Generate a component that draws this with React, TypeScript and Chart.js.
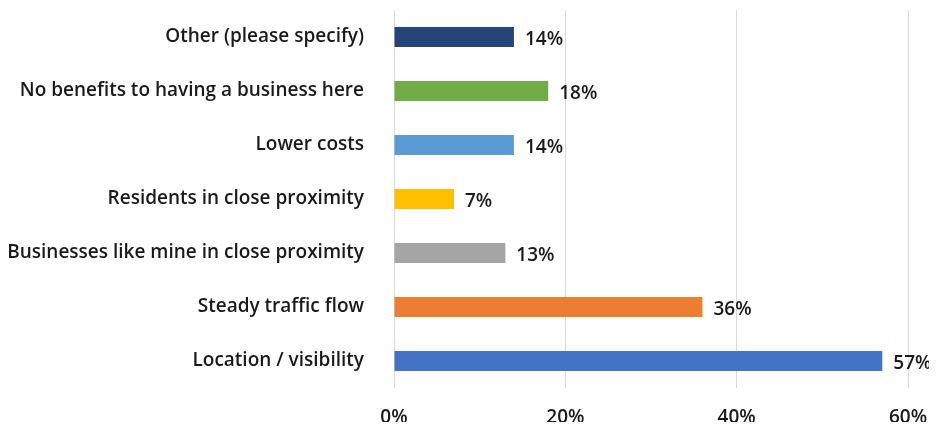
import React, { useEffect, useRef } from "react";
import { Chart, registerables } from "chart.js";

Chart.register(...registerables);

const categories = [
  "Other (please specify)",
  "No benefits to having a business here",
  "Lower costs",
  "Residents in close proximity",
  "Businesses like mine in close proximity",
  "Steady traffic flow",
  "Location / visibility",
];
const values = [14, 18, 14, 7, 13, 36, 57];
const barColors = ["#264478", "#70AD47", "#5B9BD5", "#FFC000", "#A5A5A5", "#ED7D31", "#4472C4"];
const xTicks = [0, 20, 40, 60];

const FONT = "'Open Sans', 'Segoe UI', sans-serif";
const SIZE = 19;

const valueLabels = {
  id: "valueLabels",
  afterDatasetsDraw(chart: any) {
    const ctx = chart.ctx;
    const meta = chart.getDatasetMeta(0);
    ctx.save();
    ctx.font = `600 ${SIZE}px ${FONT}`;
    ctx.fillStyle = "#1a1a1a";
    ctx.textAlign = "left";
    ctx.textBaseline = "middle";
    meta.data.forEach((bar: any, i: number) => {
      ctx.fillText(`${values[i]}%`, bar.x + 11, bar.y + 3);
    });
    ctx.restore();
  },
};

export default function App() {
  const ref = useRef<HTMLCanvasElement>(null);
  useEffect(() => {
    if (!ref.current) return;
    const chart = new Chart(ref.current, {
      type: "bar",
      data: {
        labels: categories,
        datasets: [
          {
            data: values,
            backgroundColor: barColors,
            barPercentage: 0.37,
            categoryPercentage: 1,
          },
        ],
      },
      options: {
        indexAxis: "y",
        animation: false,
        responsive: false,
        layout: { padding: { top: 10, right: 29, bottom: 0, left: 0 } },
        plugins: { legend: { display: false }, tooltip: { enabled: false } },
        scales: {
          x: {
            min: 0,
            max: 60,
            afterBuildTicks(axis: any) {
              axis.ticks = xTicks.map((v) => ({ value: v }));
            },
            afterFit(axis: any) {
              axis.paddingLeft = 0;
              axis.paddingRight = 0;
              axis.paddingTop = 0;
              axis.paddingBottom = 0;
              axis.height = 42;
            },
            grid: { color: "#d9d9d9", lineWidth: 1, drawTicks: false },
            border: { display: false },
            ticks: {
              padding: 18,
              color: "#1a1a1a",
              font: { family: FONT, size: SIZE, weight: "600" },
              callback: (v: any) => `${v}%`,
            },
          },
          y: {
            grid: { display: false },
            border: { display: false },
            afterFit(axis: any) {
              axis.width = 394;
              axis.paddingTop = 0;
              axis.paddingBottom = 0;
            },
            ticks: {
              padding: 22,
              color: "#1a1a1a",
              font: { family: FONT, size: SIZE, weight: "600" },
            },
          },
        },
      },
      plugins: [valueLabels],
    });
    return () => chart.destroy();
  }, []);
  return (
    <div style={{ margin: -8 }}>
      <canvas ref={ref} width={937} height={430} style={{ display: "block" }} />
    </div>
  );
}
